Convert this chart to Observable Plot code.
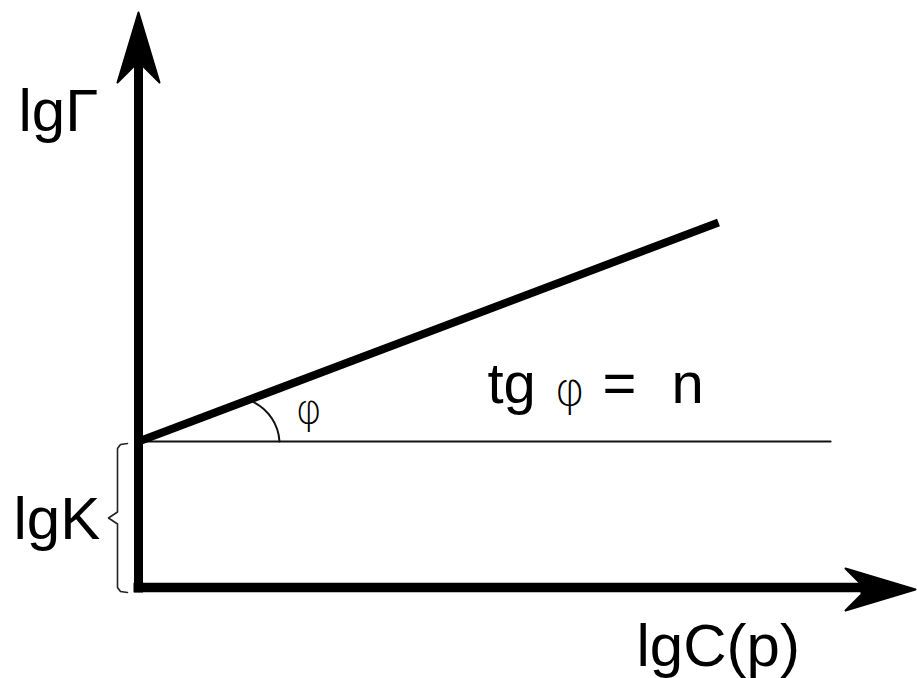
<!DOCTYPE html>
<html>
<head>
<meta charset="utf-8">
<script src="https://cdn.jsdelivr.net/npm/d3@7"></script>
<script src="https://cdn.jsdelivr.net/npm/@observablehq/plot@0.6"></script>
<style>
  html, body { margin: 0; padding: 0; background: #fff; }
</style>
</head>
<body>
<div id="chart"></div>
<script>
// ---- values (data units: lgC on x, lgΓ on y) ----
const lgK = 1.46;            // intercept of the isotherm on the lgΓ axis
const slopeN = 0.3776;       // n = tg φ
const lineX = [0, 5.80];     // extent of the isotherm in lgC
const guideX = [0, 6.92];    // extent of the horizontal reference line
const yAxisTip = 5.75;       // top of the lgΓ axis arrow
const xAxisTip = 7.77;       // right end of the lgC axis arrow
const arcX = [1.15, 1.41];   // where the angle arc meets the isotherm / reference line

const axisLabels = ["lgΓ", "lgK", "lgC(p)"];
const axisLabelX = [-1.20, -1.25, 4.98];
const axisLabelY = [4.76, 0.68, -0.59];

const formulaParts = ["tg", "=", "n"];
const formulaX = [3.49, 4.64, 5.33];
const formulaY = [2.03, 2.03, 2.03];

const phiLabels = ["φ", "φ"];      // in the formula, and at the angle
const phiX = [4.16, 1.57];
const phiY = [1.97, 1.77];
const phiSize = [46, 40];

// ---- derived geometry ----
const isotherm = lineX.map(x => ({x, y: lgK + slopeN * x}));
const guide = guideX.map(x => ({x, y: lgK}));
const yAxisLine = [{x: 0, y: -0.05}, {x: 0, y: yAxisTip - 0.5}];
const xAxisLine = [{x: -0.05, y: 0}, {x: xAxisTip - 0.5, y: 0}];

const headLen = 0.70, headHalf = 0.21, notch = 0.16, shaftHalf = 0.05;
const yHead = [
  {x: 0, y: yAxisTip},
  {x: headHalf, y: yAxisTip - headLen},
  {x: shaftHalf, y: yAxisTip - headLen + notch},
  {x: -shaftHalf, y: yAxisTip - headLen + notch},
  {x: -headHalf, y: yAxisTip - headLen},
  {x: 0, y: yAxisTip}
];
const xHead = [
  {x: xAxisTip, y: -0.02},
  {x: xAxisTip - headLen, y: headHalf - 0.02},
  {x: xAxisTip - headLen + notch, y: shaftHalf - 0.02},
  {x: xAxisTip - headLen + notch, y: -shaftHalf - 0.02},
  {x: xAxisTip - headLen, y: -headHalf - 0.02},
  {x: xAxisTip, y: -0.02}
];

const arc = [{
  x1: arcX[0], y1: lgK + slopeN * arcX[0] - 0.04,
  x2: arcX[1], y2: lgK
}];

// brace spanning 0 .. lgK
const bTop = lgK - 0.02, bBot = -0.05, bMid = (bTop + bBot) / 2;
const brace = [
  {x: -0.11, y: bTop},
  {x: -0.18, y: bTop - 0.01},
  {x: -0.21, y: bTop - 0.05},
  {x: -0.21, y: bMid + 0.06},
  {x: -0.30, y: bMid},
  {x: -0.21, y: bMid - 0.06},
  {x: -0.21, y: bBot + 0.05},
  {x: -0.18, y: bBot + 0.01},
  {x: -0.11, y: bBot}
];

const axisLabelData = axisLabels.map((t, i) => ({t, x: axisLabelX[i], y: axisLabelY[i]}));
const formulaData = formulaParts.map((t, i) => ({t, x: formulaX[i], y: formulaY[i]}));
const phiData = phiLabels.map((t, i) => ({t, x: phiX[i], y: phiY[i], s: phiSize[i]}));

const font = "Liberation Sans, Arial, Helvetica, sans-serif";
const phiFont = "DejaVu Sans, sans-serif";

const chart = Plot.plot({
  width: 917,
  height: 678,
  margin: 0,
  style: {background: "#fff", fontFamily: font},
  x: {domain: [-1.38, 7.79], axis: null},
  y: {domain: [-0.91, 5.87], axis: null},
  marks: [
    Plot.line(guide, {x: "x", y: "y", stroke: "#111", strokeWidth: 2.2}),
    Plot.line(isotherm, {x: "x", y: "y", stroke: "#000", strokeWidth: 8, strokeLinecap: "butt"}),
    Plot.arrow(arc, {x1: "x1", y1: "y1", x2: "x2", y2: "y2", bend: 30, headLength: 0, stroke: "#111", strokeWidth: 2}),
    Plot.line(brace, {x: "x", y: "y", stroke: "#222", strokeWidth: 1.6, curve: "linear"}),
    Plot.line(yAxisLine, {x: "x", y: "y", stroke: "#000", strokeWidth: 9, strokeLinecap: "butt"}),
    Plot.line(xAxisLine, {x: "x", y: "y", stroke: "#000", strokeWidth: 9.5, strokeLinecap: "butt"}),
    Plot.line(yHead, {x: "x", y: "y", fill: "#000", stroke: "#000", strokeWidth: 2}),
    Plot.line(xHead, {x: "x", y: "y", fill: "#000", stroke: "#000", strokeWidth: 2}),
    Plot.text(axisLabelData, {x: "x", y: "y", text: "t", textAnchor: "start", lineAnchor: "middle", fontSize: 60, fill: "#000", fontFamily: font}),
    Plot.text(formulaData, {x: "x", y: "y", text: "t", textAnchor: "start", lineAnchor: "middle", fontSize: 58, fill: "#000", fontFamily: font}),
    Plot.text(phiData, {x: "x", y: "y", text: "t", textAnchor: "start", lineAnchor: "middle", fontSize: d => d.s, fontWeight: 200, fill: "#000", fontFamily: phiFont})
  ]
});
document.getElementById("chart").appendChild(chart);
</script>
</body>
</html>
